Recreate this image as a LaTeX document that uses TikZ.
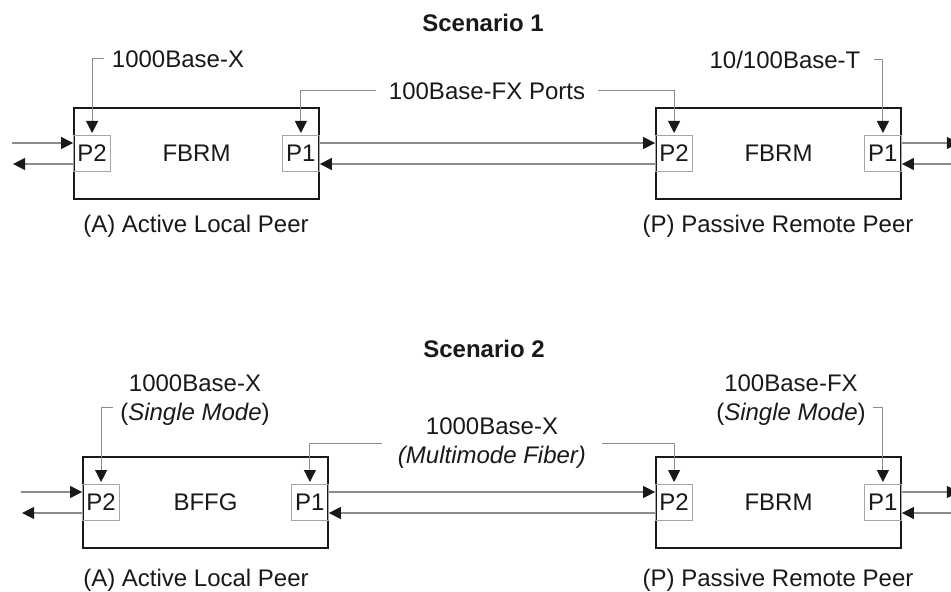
\documentclass[tikz,border=0pt]{standalone}
\usepackage{fontspec}
\setsansfont{Liberation Sans}
\usetikzlibrary{arrows.meta,positioning,calc}
\definecolor{ink}{RGB}{25,25,25}
\definecolor{wire}{RGB}{140,140,140}
\definecolor{portline}{RGB}{165,165,165}

\begin{document}
\begin{tikzpicture}[
  x=0.5pt, y=0.5pt,
  font=\sffamily\fontsize{12}{14.5}\selectfont, text=ink,
  >={Triangle[length=6pt,width=6pt,color=ink]},
  unit/.style={draw=ink, line width=0.9pt, minimum width=122.5pt, minimum height=45.5pt, inner sep=0pt},
  port/.style={draw=portline, line width=0.5pt, minimum width=18.5pt, minimum height=18pt, inner sep=0pt},
  lead/.style={->, draw=wire, line width=0.5pt},
  link/.style={->, draw=wire, line width=0.6pt},
  tag/.style={align=center, inner xsep=3.5pt, inner ysep=0pt},
  title/.style={font=\sffamily\bfseries\fontsize{12}{14.5}\selectfont},
]
\clip (0,0) rectangle (951,-592);
% ---------------------------------------------------------------- scenario 1
\node[title] (s1) at (483,-23) {Scenario 1};

\node[unit] (a1) at (196.5,-153.5) {FBRM};
\node[port, anchor=west] (a1p2) at (a1.west) {P2};
\node[port, anchor=east] (a1p1) at (a1.east) {P1};
\node (a1peer) at (196,-226) {(A) Active Local Peer};

\node[unit] (b1) at (778.5,-153.5) {FBRM};
\node[port, anchor=west] (b1p2) at (b1.west) {P2};
\node[port, anchor=east] (b1p1) at (b1.east) {P1};
\node (b1peer) at (778,-226) {(P) Passive Remote Peer};

\node[tag, inner xsep=4pt] (t1a) at (178,-59) {1000Base-X};
\node[tag, inner xsep=6.5pt] (t1m) at (487,-91) {100Base-FX Ports};
\node[tag, inner xsep=6.5pt] (t1b) at (785,-60) {10/100Base-T};

\draw[lead] (t1a.west) -| ([yshift=1pt]a1p2.north);
\draw[lead] (t1m.west) -| ([yshift=1pt]a1p1.north);
\draw[lead] (t1m.east) -| ([yshift=1pt]b1p2.north);
\draw[lead] (t1b.east) -| ([yshift=1pt]b1p1.north);

% ---------------------------------------------------------------- scenario 2
\node[title] (s2) at (484,-349) {Scenario 2};

\node[unit] (a2) at (205.5,-502.5) {BFFG};
\node[port, anchor=west] (a2p2) at (a2.west) {P2};
\node[port, anchor=east] (a2p1) at (a2.east) {P1};
\node (a2peer) at (196,-580) {(A) Active Local Peer};

\node[unit] (b2) at (778.5,-502.5) {FBRM};
\node[port, anchor=west] (b2p2) at (b2.west) {P2};
\node[port, anchor=east] (b2p1) at (b2.east) {P1};
\node (b2peer) at (778,-580) {(P) Passive Remote Peer};

\node[tag] (t2a) at (195,-400) {1000Base-X\\(\textit{Single Mode})};
\node[tag, inner xsep=8pt] (t2m) at (492,-443) {1000Base-X\\\textit{(Multimode Fiber)}};
\node[tag] (t2b) at (791,-400) {100Base-FX\\(\textit{Single Mode})};

\draw[lead] ($(t2a.west)!0.3!(t2a.south west)$) -| ([yshift=1pt]a2p2.north);
\draw[lead] (t2m.west) -| ([yshift=1pt]a2p1.north);
\draw[lead] (t2m.east) -| ([yshift=1pt]b2p2.north);
\draw[lead] ($(t2b.east)!0.3!(t2b.south east)$) -| ([yshift=1pt]b2p1.north);

% ---------------------------------------------------------------- links
\foreach \a/\b in {a1/b1, a2/b2} {
  \draw[link] ([yshift=5.25pt]\a p1.east) -- ([yshift=5.25pt]\b p2.west);
  \draw[link] ([yshift=-5.25pt]\b p2.west) -- ([yshift=-5.25pt]\a p1.east);
  \draw[link] ([xshift=-30.5pt,yshift=5.25pt]\a p2.west) -- ([yshift=5.25pt]\a p2.west);
  \draw[link] ([yshift=-5.25pt]\a p2.west) -- ([xshift=-30pt,yshift=-5.25pt]\a p2.west);
  \draw[link] ([yshift=5.25pt]\b p1.east) -- ([xshift=28.5pt,yshift=5.25pt]\b p1.east);
  \draw[link] ([xshift=28.5pt,yshift=-5.25pt]\b p1.east) -- ([yshift=-5.25pt]\b p1.east);
}
\end{tikzpicture}
\end{document}
